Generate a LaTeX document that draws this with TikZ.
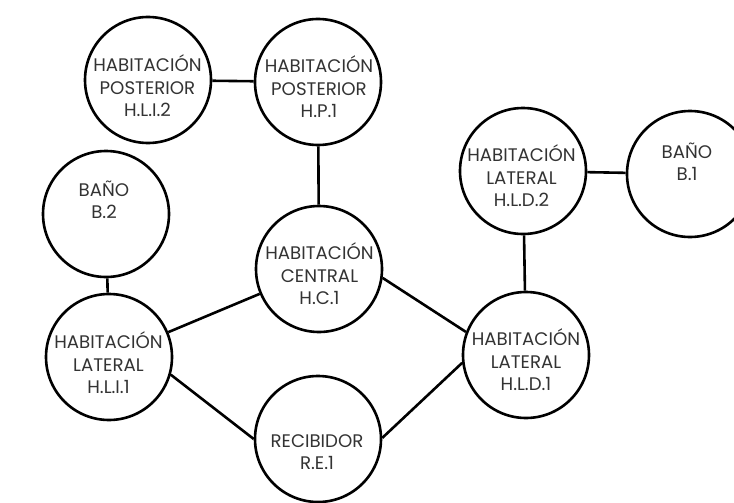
\documentclass[tikz,border=0pt]{standalone}
\usepackage{fontspec}
\setmainfont{Poppins}
\begin{document}
\begin{tikzpicture}[x=1pt,y=-1pt,
  room/.style={circle,draw=black,line width=2.6pt,minimum size=126pt,inner sep=0pt},
  lbl/.style={align=center,font=\fontsize{18.2}{22.5}\selectfont,text=black!80,inner sep=0pt},
  link/.style={line width=2.6pt}]
\useasboundingbox (0,0) rectangle (734,503);
% circles
\node[room] (hli2) at (148,80) {};
\node[room] (hp1)  at (318,82) {};
\node[room] (b2)   at (106,214) {};
\node[room] (hc1)  at (319,269) {};
\node[room] (hld2) at (523,171) {};
\node[room] (b1)   at (690,174) {};
\node[room] (hli1) at (109,357) {};
\node[room] (hld1) at (526,355) {};
\node[room] (re1)  at (318,439) {};
% labels
\node[lbl] (t1) at (147.5,86) {HABITACIÓN\\POSTERIOR\\H.L.I.2};
\node[lbl] (t2) at (319,87) {HABITACIÓN\\POSTERIOR\\H.P.1};
\node[lbl] (t3) at (104,200) {BAÑO\\B.2};
\node[lbl] (t4) at (319.5,274) {HABITACIÓN\\CENTRAL\\H.C.1};
\node[lbl] (t5) at (521.5,176) {HABITACIÓN\\LATERAL\\H.L.D.2};
\node[lbl] (t6) at (687,162) {BAÑO\\B.1};
\node[lbl] (t7) at (108.5,363) {HABITACIÓN\\LATERAL\\H.L.I.1};
\node[lbl] (t8) at (526,360) {HABITACIÓN\\LATERAL\\H.L.D.1};
\node[lbl] (t9) at (317,452) {RECIBIDOR\\R.E.1};
% connectors
\draw[link] (hli2) -- (hp1);
\draw[link] (hp1) -- (hc1);
\draw[link] (b2) -- (hli1);
\draw[link] (hli1) -- (hc1);
\draw[link] (hc1.-8) -- (hld1.159);
\draw[link] (hli1.-16) -- (re1.180);
\draw[link] (re1.1) -- (hld1.-173);
\draw[link] (hld2) -- (hld1);
\draw[link] (hld2) -- (b1);
\end{tikzpicture}
\end{document}
